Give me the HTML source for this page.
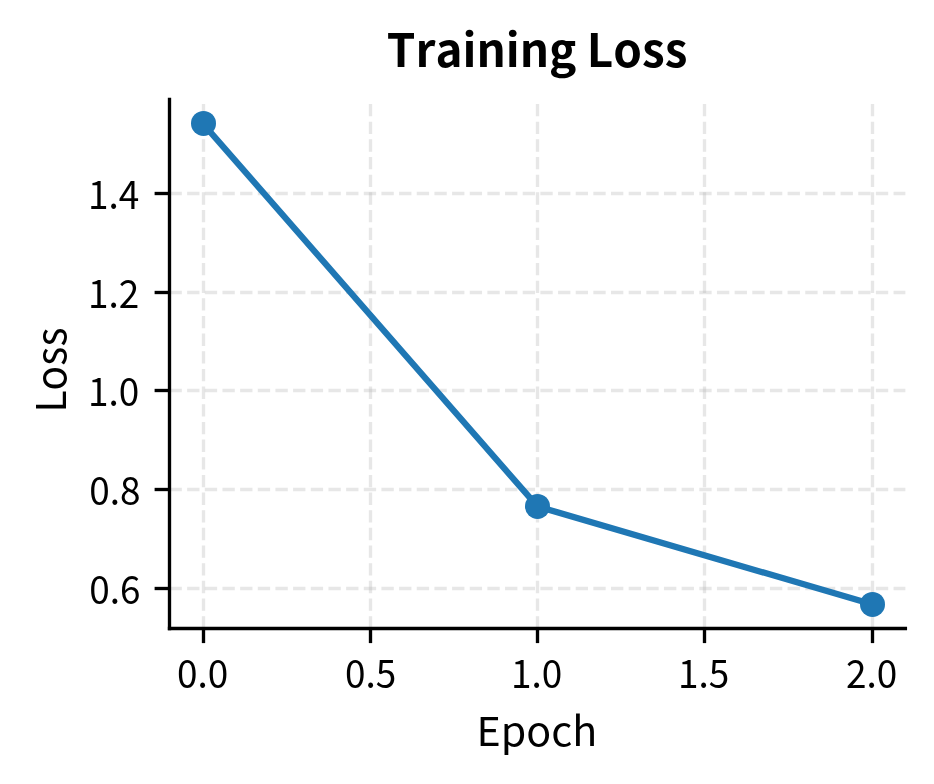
<!DOCTYPE html>
<html lang="en"><head><meta charset="utf-8"><title>Training Loss</title>
<style>html,body{margin:0;padding:0;background:#fff;}svg{display:block;will-change:transform;}text{font-family:"Noto Sans CJK SC", "Noto Sans CJK JP", "Liberation Sans", sans-serif;fill:#000;font-kerning:none;}</style></head><body>
<svg width="934" height="784" viewBox="0 0 934 784">
<rect width="934" height="784" fill="#ffffff"/>
<g stroke="#b0b0b0" stroke-opacity="0.3" stroke-width="3.33" stroke-dasharray="12.33 5.33" fill="none">
<path d="M203.50 628.50V99.50"/>
<path d="M370.50 628.50V99.50"/>
<path d="M537.50 628.50V99.50"/>
<path d="M704.50 628.50V99.50"/>
<path d="M872.50 628.50V99.50"/>
<path d="M169.50 193.50H905.40"/>
<path d="M169.50 292.50H905.40"/>
<path d="M169.50 390.50H905.40"/>
<path d="M169.50 489.50H905.40"/>
<path d="M169.50 588.50H905.40"/>
</g>
<polyline points="203.10,123.80 537.50,506.40 872.50,604.40" fill="none" stroke="#1f77b4" stroke-width="6.25" stroke-linejoin="round" stroke-linecap="square"/>
<circle cx="203.50" cy="123.40" r="12.5" fill="#1f77b4"/>
<circle cx="537.50" cy="506.40" r="12.5" fill="#1f77b4"/>
<circle cx="872.50" cy="604.40" r="12.5" fill="#1f77b4"/>
<g stroke="#000" stroke-width="3.33" fill="none" stroke-linecap="square">
<path d="M169.50 628.50V99.50"/>
<path d="M169.50 628.50H905.40"/>
</g>
<g stroke="#000" stroke-width="3.33" fill="none">
<path d="M203.50 628.50v14.6"/>
<path d="M370.50 628.50v14.6"/>
<path d="M537.50 628.50v14.6"/>
<path d="M704.50 628.50v14.6"/>
<path d="M872.50 628.50v14.6"/>
<path d="M169.50 193.50h-14.9"/>
<path d="M169.50 292.50h-14.9"/>
<path d="M169.50 390.50h-14.9"/>
<path d="M169.50 489.50h-14.9"/>
<path d="M169.50 588.50h-14.9"/>
</g>
<g font-size="37.5" text-anchor="middle">
<text transform="translate(202.60 687.9) scale(0.985 1.04)">0.0</text>
<text transform="translate(370.60 687.9) scale(0.985 1.04)">0.5</text>
<text transform="translate(536.60 687.9) scale(0.985 1.04)">1.0</text>
<text transform="translate(703.60 687.9) scale(0.985 1.04)">1.5</text>
<text transform="translate(871.60 687.9) scale(0.985 1.04)">2.0</text>
</g>
<g font-size="37.5" text-anchor="end">
<text transform="translate(139.30 209.10) scale(0.985 1.04)">1.4</text>
<text transform="translate(139.30 308.10) scale(0.985 1.04)">1.2</text>
<text transform="translate(139.30 406.10) scale(0.985 1.04)">1.0</text>
<text transform="translate(140.40 505.10) scale(0.985 1.04)">0.8</text>
<text transform="translate(140.40 604.10) scale(0.985 1.04)">0.6</text>
</g>
<text transform="translate(536.9 745.9) scale(1.008 0.985)" font-size="40.85" text-anchor="middle">Epoch</text>
<text transform="translate(66.1 370.0) rotate(-90)" font-size="40.85" text-anchor="middle">Loss</text>
<text x="537.1" y="67.1" font-size="45.83" font-weight="bold" text-anchor="middle">Training Loss</text>
</svg></body></html>
